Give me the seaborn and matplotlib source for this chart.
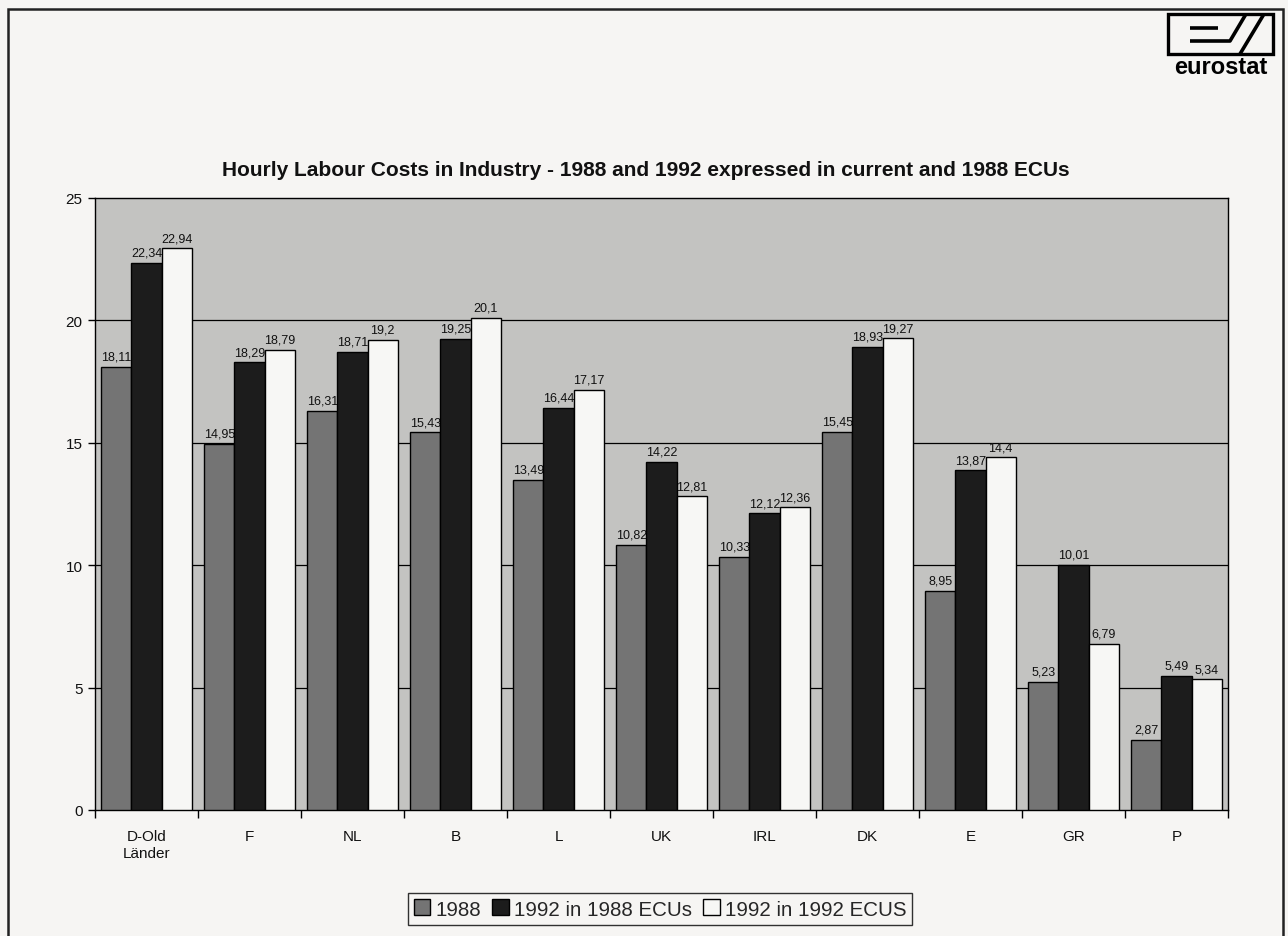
import matplotlib
matplotlib.use("Agg")
import matplotlib.pyplot as plt
from matplotlib.patches import Rectangle
from matplotlib.lines import Line2D
import numpy as np
import pandas as pd
import seaborn as sns

# Data: hourly labour costs in industry (ECU)
countries = ["D-Old\nLänder", "F", "NL", "B", "L", "UK", "IRL", "DK", "E", "GR", "P"]
cost_1988 = [18.11, 14.95, 16.31, 15.43, 13.49, 10.82, 10.33, 15.45, 8.95, 5.23, 2.87]
cost_1992_in_1988_ecu = [22.34, 18.29, 18.71, 19.25, 16.44, 14.22, 12.12, 18.93, 13.87, 10.01, 5.49]
cost_1992_in_1992_ecu = [22.94, 18.79, 19.2, 20.1, 17.17, 12.81, 12.36, 19.27, 14.4, 6.79, 5.34]
series_names = ["1988", "1992 in 1988 ECUs", "1992 in 1992 ECUS"]
y_ticks = [0, 5, 10, 15, 20, 25]

df = pd.DataFrame({
    "country": countries * 3,
    "series": [series_names[0]] * 11 + [series_names[1]] * 11 + [series_names[2]] * 11,
    "value": cost_1988 + cost_1992_in_1988_ecu + cost_1992_in_1992_ecu,
})

sns.set_theme(style="white")
plt.rcParams["font.family"] = ["Liberation Sans", "DejaVu Sans"]

colors = ["#747474", "#1c1c1c", "#f7f7f5"]
fig = plt.figure(figsize=(12.88, 9.37), dpi=100)
fig.patch.set_facecolor("#f6f5f3")

W, H = 1288.0, 937.0
ax = fig.add_axes([95 / W, 1 - 811 / H, (1228 - 95) / W, (811 - 199) / H])
ax.set_facecolor("#c3c3c1")

sns.barplot(data=df, x="country", y="value", hue="series", hue_order=series_names,
            palette=colors, width=0.88, gap=0, saturation=1, edgecolor="black",
            linewidth=1.0, ax=ax, legend=False, zorder=3, errorbar=None)

ax.set_ylim(0, 25)
ax.set_xlim(-0.5, len(countries) - 0.5)
ax.set_yticks(y_ticks)
ax.set_xlabel("")
ax.set_ylabel("")
for y in y_ticks[1:-1]:
    ax.axhline(y, color="black", lw=0.9, zorder=1)

# value labels with comma decimal separator
for cont in ax.containers:
    labels = [f"{b.get_height():g}".replace(".", ",") for b in cont]
    ax.bar_label(cont, labels=labels, padding=3, fontsize=9, color="#111111", zorder=2)

for s in ax.spines.values():
    s.set_color("black")
    s.set_linewidth(1.0)

ax.tick_params(axis="y", which="major", direction="out", length=5, width=1,
               color="black", labelsize=11, labelcolor="#111111", left=True, pad=4)
ax.tick_params(axis="x", which="major", length=0, labelsize=11, labelcolor="#111111", pad=14)
ax.set_xticks(np.arange(-0.5, len(countries), 1.0), minor=True)
ax.tick_params(axis="x", which="minor", direction="out", length=6, width=1,
               color="black", bottom=True)

fig.text(646 / W, 1 - 170 / H,
         "Hourly Labour Costs in Industry - 1988 and 1992 expressed in current and 1988 ECUs",
         ha="center", va="center", fontsize=15, fontweight="bold", color="#111111")

# legend
handles = [Rectangle((0, 0), 1, 1, facecolor=c, edgecolor="black", lw=1) for c in colors]
leg = fig.legend(handles, series_names, loc="center", bbox_to_anchor=(660 / W, 1 - 910 / H),
                 ncol=3, frameon=True, fancybox=False, fontsize=14.8, handlelength=0.8,
                 handleheight=0.8, handletextpad=0.25, columnspacing=0.55,
                 borderpad=0.3, borderaxespad=0)
leg.get_frame().set_edgecolor("black")
leg.get_frame().set_linewidth(1.0)
leg.get_frame().set_facecolor("#f6f5f3")

# page border
fig.add_artist(Rectangle((8 / W, -0.02), (1283 - 8) / W, 1.02 - 10 / H,
                         transform=fig.transFigure, fill=False, edgecolor="#222222",
                         lw=1.8, clip_on=False))

# logo
lx0, lx1, ly0, ly1 = 1168, 1273, 15, 55
fig.add_artist(Rectangle((lx0 / W, 1 - ly1 / H), (lx1 - lx0) / W, (ly1 - ly0) / H,
                         transform=fig.transFigure, fill=False, edgecolor="black", lw=2.4))
def fl(xs, ys, lw=2.6):
    fig.add_artist(Line2D([x / W for x in xs], [1 - y / H for y in ys],
                          transform=fig.transFigure, color="black", lw=lw,
                          solid_capstyle="butt"))
fl([1190, 1218], [29, 29])
fl([1190, 1230, 1246], [42, 42, 15])
fl([1240, 1264], [55, 15])
fig.text(1221 / W, 1 - 68 / H, "eurostat", ha="center", va="center",
         fontsize=17, fontweight="bold", color="black")

fig.savefig("out.png", dpi=100, facecolor=fig.get_facecolor())
